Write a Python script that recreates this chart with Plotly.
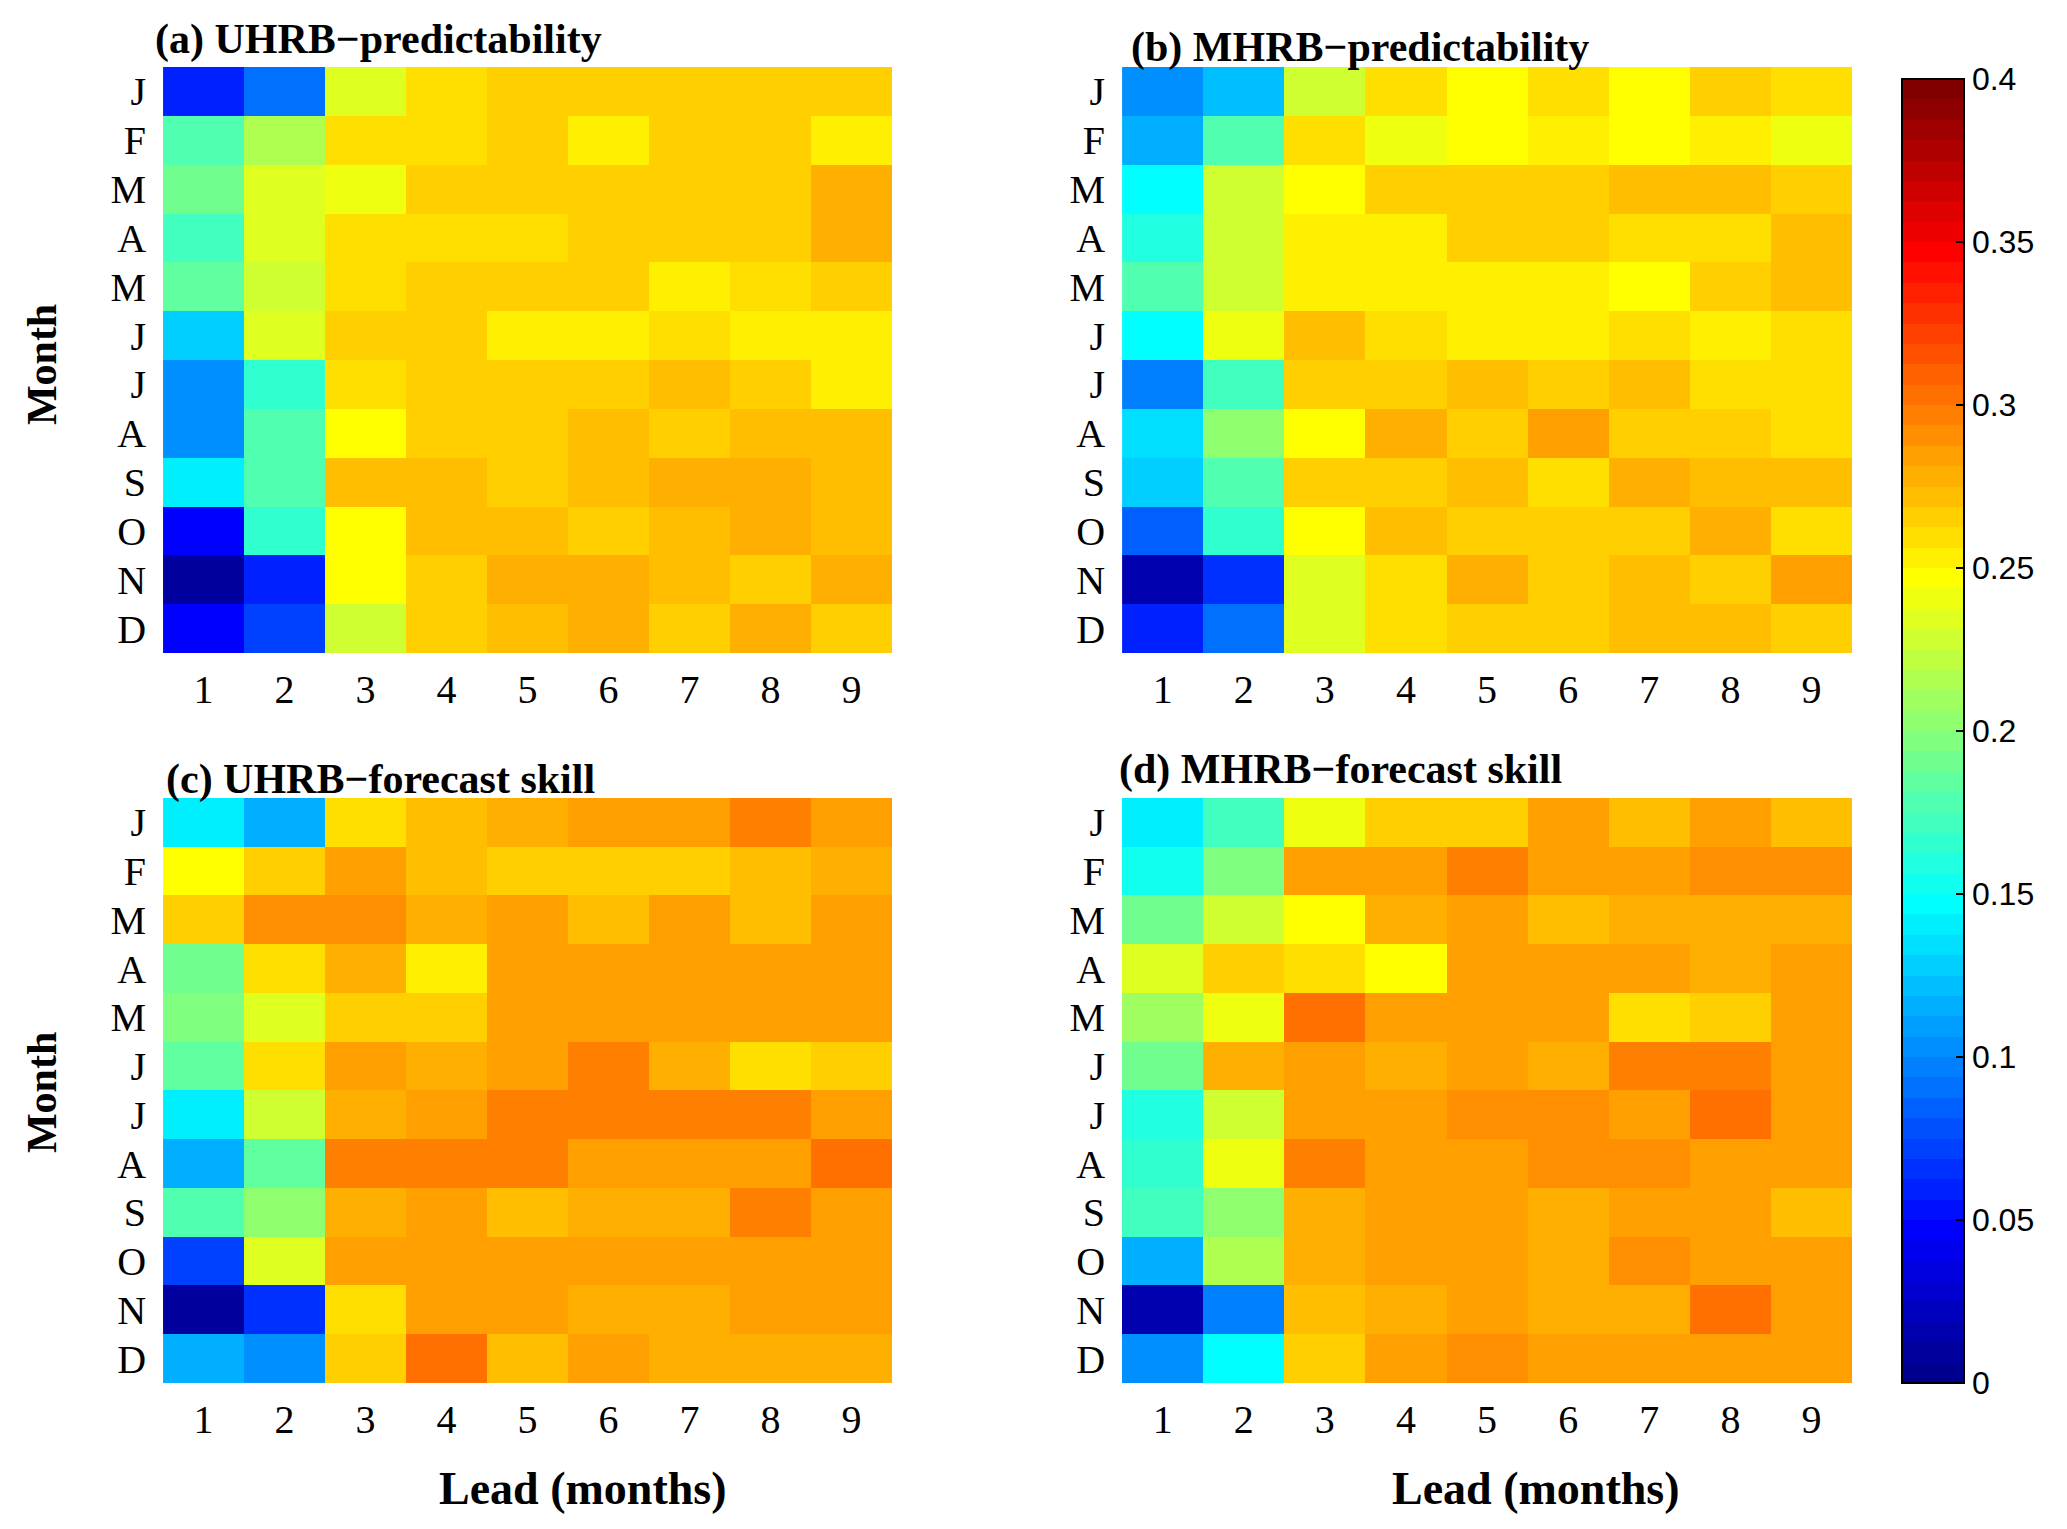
import math
import plotly.graph_objects as go

months = ['J', 'F', 'M', 'A', 'M', 'J', 'J', 'A', 'S', 'O', 'N', 'D']
leads = [1, 2, 3, 4, 5, 6, 7, 8, 9]
cbar_ticks = [0, 0.05, 0.1, 0.15, 0.2, 0.25, 0.3, 0.35, 0.4]
cbar_labels = ['0', '0.05', '0.1', '0.15', '0.2', '0.25', '0.3', '0.35', '0.4']

# rows = start month (J..D), columns = lead 1..9
uhrb_pred = [
    [0.062, 0.089, 0.236, 0.258, 0.268, 0.264, 0.264, 0.266, 0.268],
    [0.177, 0.217, 0.258, 0.258, 0.268, 0.255, 0.263, 0.268, 0.255],
    [0.190, 0.236, 0.240, 0.264, 0.264, 0.268, 0.268, 0.264, 0.276],
    [0.170, 0.232, 0.258, 0.258, 0.262, 0.268, 0.264, 0.268, 0.276],
    [0.185, 0.225, 0.258, 0.264, 0.268, 0.268, 0.255, 0.262, 0.263],
    [0.128, 0.232, 0.268, 0.263, 0.255, 0.255, 0.262, 0.255, 0.255],
    [0.105, 0.166, 0.260, 0.268, 0.268, 0.268, 0.272, 0.268, 0.255],
    [0.105, 0.177, 0.247, 0.268, 0.268, 0.274, 0.268, 0.274, 0.274],
    [0.140, 0.177, 0.270, 0.274, 0.268, 0.274, 0.280, 0.280, 0.274],
    [0.047, 0.164, 0.247, 0.274, 0.274, 0.268, 0.274, 0.280, 0.274],
    [0.010, 0.062, 0.247, 0.264, 0.280, 0.280, 0.274, 0.268, 0.280],
    [0.047, 0.074, 0.228, 0.268, 0.272, 0.280, 0.268, 0.280, 0.268],
]

mhrb_pred = [
    [0.105, 0.124, 0.225, 0.260, 0.249, 0.258, 0.244, 0.264, 0.258],
    [0.116, 0.181, 0.260, 0.242, 0.249, 0.256, 0.244, 0.256, 0.242],
    [0.147, 0.225, 0.249, 0.268, 0.268, 0.264, 0.274, 0.274, 0.268],
    [0.162, 0.228, 0.256, 0.256, 0.268, 0.268, 0.262, 0.262, 0.274],
    [0.181, 0.226, 0.256, 0.256, 0.256, 0.256, 0.247, 0.268, 0.274],
    [0.144, 0.240, 0.270, 0.262, 0.256, 0.256, 0.262, 0.256, 0.260],
    [0.097, 0.170, 0.264, 0.264, 0.272, 0.268, 0.272, 0.262, 0.262],
    [0.136, 0.200, 0.247, 0.280, 0.268, 0.282, 0.266, 0.266, 0.262],
    [0.130, 0.177, 0.266, 0.268, 0.272, 0.262, 0.278, 0.274, 0.274],
    [0.085, 0.166, 0.249, 0.274, 0.266, 0.266, 0.266, 0.278, 0.262],
    [0.015, 0.066, 0.236, 0.262, 0.280, 0.266, 0.270, 0.264, 0.285],
    [0.062, 0.093, 0.232, 0.262, 0.266, 0.266, 0.272, 0.272, 0.266],
]

uhrb_skill = [
    [0.140, 0.118, 0.258, 0.270, 0.276, 0.282, 0.287, 0.299, 0.282],
    [0.247, 0.264, 0.282, 0.270, 0.264, 0.268, 0.268, 0.274, 0.276],
    [0.266, 0.293, 0.293, 0.276, 0.282, 0.274, 0.282, 0.274, 0.282],
    [0.193, 0.258, 0.276, 0.256, 0.282, 0.287, 0.287, 0.282, 0.282],
    [0.198, 0.232, 0.268, 0.268, 0.287, 0.287, 0.282, 0.287, 0.287],
    [0.185, 0.258, 0.282, 0.276, 0.287, 0.295, 0.276, 0.262, 0.268],
    [0.138, 0.225, 0.276, 0.287, 0.295, 0.295, 0.295, 0.295, 0.287],
    [0.113, 0.185, 0.295, 0.295, 0.295, 0.282, 0.287, 0.287, 0.302],
    [0.181, 0.205, 0.276, 0.287, 0.274, 0.280, 0.280, 0.295, 0.287],
    [0.074, 0.236, 0.282, 0.282, 0.287, 0.287, 0.287, 0.282, 0.282],
    [0.012, 0.066, 0.258, 0.282, 0.287, 0.276, 0.276, 0.285, 0.282],
    [0.115, 0.100, 0.268, 0.302, 0.274, 0.285, 0.280, 0.280, 0.276],
]

mhrb_skill = [
    [0.140, 0.170, 0.242, 0.264, 0.268, 0.285, 0.270, 0.285, 0.270],
    [0.156, 0.198, 0.282, 0.282, 0.295, 0.282, 0.282, 0.293, 0.293],
    [0.190, 0.225, 0.247, 0.276, 0.282, 0.270, 0.280, 0.280, 0.276],
    [0.232, 0.268, 0.258, 0.247, 0.285, 0.285, 0.285, 0.276, 0.282],
    [0.210, 0.242, 0.302, 0.287, 0.282, 0.282, 0.262, 0.264, 0.282],
    [0.190, 0.280, 0.282, 0.276, 0.287, 0.276, 0.295, 0.295, 0.282],
    [0.160, 0.225, 0.282, 0.282, 0.293, 0.293, 0.287, 0.302, 0.285],
    [0.168, 0.242, 0.295, 0.282, 0.287, 0.293, 0.293, 0.287, 0.287],
    [0.175, 0.200, 0.276, 0.285, 0.285, 0.276, 0.282, 0.282, 0.274],
    [0.113, 0.217, 0.276, 0.282, 0.282, 0.276, 0.293, 0.282, 0.282],
    [0.016, 0.099, 0.270, 0.276, 0.285, 0.280, 0.276, 0.302, 0.285],
    [0.105, 0.147, 0.268, 0.285, 0.293, 0.287, 0.287, 0.287, 0.287],
]


def jet(n=64):
    # same construction as matlab's jet(n)
    m = math.ceil(n / 4)
    u = [i / m for i in range(1, m + 1)] + [1.0] * (m - 1) + [i / m for i in range(m, 0, -1)]
    g = [math.ceil(m / 2) - (n % 4 == 1) + i for i in range(1, len(u) + 1)]
    r = [x + m for x in g if x + m <= n]
    b = [x - m for x in g if x - m >= 1]
    g = [x for x in g if x <= n]
    cols = [[0.0, 0.0, 0.0] for _ in range(n)]
    for k, idx in enumerate(r):
        cols[idx - 1][0] = u[k]
    for k, idx in enumerate(g):
        cols[idx - 1][1] = u[k]
    off = len(u) - len(b)
    for k, idx in enumerate(b):
        cols[idx - 1][2] = u[off + k]
    return cols


jet_scale = []
for i, c in enumerate(jet(64)):
    rgb = 'rgb(%d,%d,%d)' % tuple(round(v * 255) for v in c)
    jet_scale.append([i / 64, rgb])
    jet_scale.append([(i + 1) / 64, rgb])

SERIF = 'Liberation Serif'
SANS = 'Liberation Sans'

fig = go.Figure()

panels = [(uhrb_pred, 'x', 'y'), (mhrb_pred, 'x2', 'y2'),
          (uhrb_skill, 'x3', 'y3'), (mhrb_skill, 'x4', 'y4')]
for z, xa, ya in panels:
    fig.add_trace(go.Heatmap(x=leads,
                             y=list(range(len(months))),
                             z=z,
                             coloraxis='coloraxis',
                             xaxis=xa, yaxis=ya))

# same panel (d) again on a twin colour axis, only so the colour bar gets ticks on its left edge too
fig.add_trace(go.Heatmap(x=leads, y=list(range(len(months))), z=mhrb_skill,
                         coloraxis='coloraxis2', xaxis='x4', yaxis='y4'))

# page body has an 8px margin, so the figure is drawn 16px smaller
left = [0.0756, 0.4310]
right = [0.5432, 0.8991]
top = [0.5737, 0.9610]
bottom = [0.0912, 0.4779]

xa_style = dict(range=[0.5, 9.5], showgrid=False, zeroline=False, showline=False, ticks='',
                tickvals=leads, tickfont=dict(family=SERIF, size=40, color='black'),
                ticklabelstandoff=9)
ya_style = dict(range=[11.5, -0.5], showgrid=False, zeroline=False, showline=False, ticks='',
                tickvals=list(range(len(months))), ticktext=months,
                tickfont=dict(family=SERIF, size=40, color='black'),
                ticklabelstandoff=16)

title_font = dict(family=SERIF, size=42, color='black', weight='bold')
annotations = [
    dict(text='(a) UHRB\u2212predictability', x=0.0707, y=0.9789),
    dict(text='(b) MHRB\u2212predictability', x=0.5466, y=0.9740),
    dict(text='(c) UHRB\u2212forecast skill', x=0.0761, y=0.4898),
    dict(text='(d) MHRB\u2212forecast skill', x=0.5407, y=0.4970),
]
for a in annotations:
    a.update(xref='paper', yref='paper', xanchor='left', yanchor='middle',
             showarrow=False, font=title_font)
for yy in [0.7640, 0.2829]:
    annotations.append(dict(text='Month', x=0.0166, y=yy, xref='paper', yref='paper',
                            xanchor='center', yanchor='middle',
                            textangle=-90, showarrow=False, font=title_font))
for xx in [0.2804, 0.7450]:
    annotations.append(dict(text='Lead (months)', x=xx, y=0.0215, xref='paper', yref='paper',
                            xanchor='center', yanchor='middle', showarrow=False,
                            font=dict(family=SERIF, size=46, color='black', weight='bold')))

cbar = dict(x=0.9235, xanchor='left', xpad=0,
            y=0.0912, yanchor='bottom', ypad=0,
            len=0.8619, lenmode='fraction',
            thickness=62, thicknessmode='pixels',
            outlinewidth=2, outlinecolor='black',
            tickvals=cbar_ticks, ticktext=cbar_labels,
            ticks='inside', ticklen=9, tickwidth=2, tickcolor='black',
            tickfont=dict(family=SANS, size=32, color='black'))
cbar_left = dict(cbar, ticklabelposition='outside left', showticklabels=False)

fig.update_layout(width=2051, height=1513,
                  margin=dict(l=0, r=0, t=0, b=0, autoexpand=False),
                  paper_bgcolor='white', plot_bgcolor='white',
                  xaxis=dict(domain=left, anchor='y', **xa_style),
                  yaxis=dict(domain=top, anchor='x', **ya_style),
                  xaxis2=dict(domain=right, anchor='y2', **xa_style),
                  yaxis2=dict(domain=top, anchor='x2', **ya_style),
                  xaxis3=dict(domain=left, anchor='y3', **xa_style),
                  yaxis3=dict(domain=bottom, anchor='x3', **ya_style),
                  xaxis4=dict(domain=right, anchor='y4', **xa_style),
                  yaxis4=dict(domain=bottom, anchor='x4', **ya_style),
                  coloraxis=dict(cmin=0, cmax=0.4, colorscale=jet_scale, colorbar=cbar),
                  coloraxis2=dict(cmin=0, cmax=0.4, colorscale=jet_scale, colorbar=cbar_left),
                  annotations=annotations,
                  showlegend=False)

fig.write_html('out.html')
